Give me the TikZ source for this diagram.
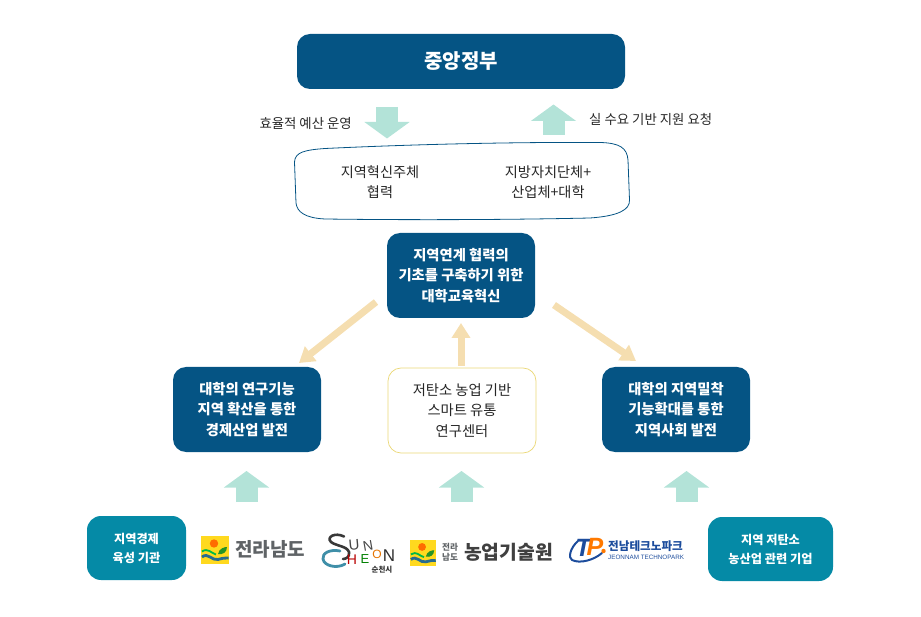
\documentclass[tikz,border=0pt]{standalone}
\usepackage{fontspec}
\setmainfont{Noto Sans CJK KR}
\newfontfamily\latinf{Liberation Sans}
\usetikzlibrary{arrows.meta}
\definecolor{navy}{HTML}{055484}
\definecolor{teal1}{HTML}{058AA6}
\definecolor{mint}{HTML}{B3E3D8}
\definecolor{tan1}{HTML}{F5DEB0}
\definecolor{gold}{HTML}{EBD877}
\definecolor{ytile}{HTML}{FFD91F}
\definecolor{logogray}{HTML}{5F6366}
\definecolor{wblue}{HTML}{2F7FA8}
\definecolor{tpblue}{HTML}{1C4C9C}
\definecolor{swteal}{HTML}{3F8FA8}
\tikzset{
  navybox/.style={draw=none,fill=navy,rounded corners=13pt,text=white,align=center,font=\fontsize{14.3}{20.5}\selectfont\bfseries,inner sep=0pt},
  goldbox/.style={draw=gold,line width=0.7pt,fill=white,rounded corners=13pt,text=black!85,align=center,font=\fontsize{14.3}{20.5}\selectfont,inner sep=0pt},
  tealbox/.style={draw=none,fill=teal1,rounded corners=14pt,text=white,align=center,font=\fontsize{12.2}{19}\selectfont\bfseries,inner sep=0pt},
  plain/.style={text=black!85,align=center,font=\fontsize{14.2}{20}\selectfont,inner sep=0pt},
  side/.style={text=black!85,font=\fontsize{13.4}{15}\selectfont,inner sep=0pt},
  mintarrow/.style={draw=mint,line width=22pt,-{Triangle[width=44.5pt,length=16.5pt]}},
  tanarrow/.style={draw=tan1,line width=7pt,-{Triangle[width=18pt,length=15pt]}},
  logotext/.style={text=logogray,inner sep=0pt},
  lett/.style={inner sep=0pt,font=\latinf\fontsize{#1}{#1}\selectfont},
  tile/.pic={
    \fill[ytile] (-13.7,-13.7) rectangle (13.7,13.7);
    \fill[orange!85!red] (-1,-6.5) circle (4.2);
    \draw[green!45!teal,line width=1.8pt] (-13,1.5) .. controls (-7,-2.5) and (-4,3) .. (1,4.5);
    \draw[wblue!85!black,line width=2.8pt] (-13,7) .. controls (-7,2) and (-3,11) .. (3,9.5) .. controls (7,8.5) and (10,7.5) .. (13.7,8);
    \fill[green!50!black!85] (3,4) .. controls (4,-2) and (10,-3) .. (12,-3) .. controls (12,2) and (8,5) .. (3,4);
  }
}
\begin{document}
\begin{tikzpicture}[x=1pt,y=-1pt]
\useasboundingbox (0,0) rectangle (921,617);
% nodes
\node[navybox,minimum width=328pt,minimum height=55pt,font=\fontsize{20}{24}\selectfont\bfseries] (gov) at (461,61.5) {중앙정부};
\node[side,anchor=east] (left) at (352,123) {효율적 예산 운영};
\node[side,anchor=west] (right) at (589,119) {실 수요 기반 지원 요청};
\draw[navy,line width=0.8pt] (294.5,162) .. controls (295,152) and (305,150) .. (325,148.5) .. controls (420,144) and (520,142) .. (600,142.5) .. controls (620,143) and (627,148) .. (628,160) -- (629.5,200) .. controls (630,210) and (618,216) .. (590,218) .. controls (500,220) and (400,220) .. (325,219) .. controls (305,218) and (297,212) .. (296,203) -- cycle;
\node[plain] (t1) at (380,182) {지역혁신주체\\협력};
\node[plain] (t2) at (548,182) {지방자치단체+\\산업체+대학};
\node[navybox,minimum width=148pt,minimum height=85pt] (center) at (461,275.5) {지역연계 협력의\\기초를 구축하기 위한\\대학교육혁신};
\node[navybox,minimum width=148pt,minimum height=85pt] (lbox) at (247,409.5) {대학의 연구기능\\지역 확산을 통한\\경제산업 발전};
\node[goldbox,minimum width=148pt,minimum height=85pt] (mbox) at (462,410.5) {저탄소 농업 기반\\스마트 유통\\연구센터};
\node[navybox,minimum width=148pt,minimum height=85pt] (rbox) at (676,409.5) {대학의 지역밀착\\기능확대를 통한\\지역사회 발전};
\node[tealbox,minimum width=99pt,minimum height=64pt] (tl) at (136.5,548) {지역경제\\육성 기관};
\node[tealbox,minimum width=125pt,minimum height=64pt] (tr) at (770.5,549) {지역 저탄소\\농산업 관련 기업};
% arrow end points
\coordinate (a1s) at (387,107); \coordinate (a1e) at (387,138.5);
\coordinate (a2s) at (553.5,135); \coordinate (a2e) at (553.5,104.5);
\coordinate (a3s) at (246.5,502); \coordinate (a3e) at (246.5,471);
\coordinate (a4s) at (461.5,502); \coordinate (a4e) at (461.5,471);
\coordinate (a5s) at (686.5,502); \coordinate (a5e) at (686.5,471);
\coordinate (b1s) at (376,302); \coordinate (b1e) at (299,363);
\coordinate (b2s) at (554,305); \coordinate (b2e) at (636,361);
\coordinate (b3s) at (461,366); \coordinate (b3e) at (461,323);
\foreach \p/\q in {a1s/a1e,a2s/a2e,a3s/a3e,a4s/a4e,a5s/a5e} \draw[mintarrow] (\p) -- (\q);
\foreach \p/\q in {b1s/b1e,b2s/b2e,b3s/b3e} \draw[tanarrow] (\p) -- (\q);
% logos
\pic at (215,550) {tile};
\node[logotext,anchor=west,font=\fontsize{19}{20}\selectfont\bfseries] (jn) at (235,549) {전라남도};
\pic[scale=0.93] at (423,553) {tile};
\node[logotext,align=center,font=\fontsize{8.6}{9.5}\selectfont\bfseries] (jn2) at (450,552) {전라\\남도};
\node[text=black!75,anchor=west,inner sep=0pt,font=\fontsize{19.3}{20}\selectfont\bfseries] (agr) at (464,552) {농업기술원};
% suncheon
\draw[black!78,line width=2.6pt,line cap=round] (344,536.5) .. controls (335,532) and (326,537) .. (331,542) .. controls (336,546) and (347,546) .. (349,552) .. controls (350,557) and (346,559) .. (343,559);
\draw[swteal,line width=2.8pt,line cap=round] (340,551) .. controls (330,549) and (322,553) .. (323,559) .. controls (324,566) and (337,569) .. (345,564);
\node[lett=15,text=black!72,rotate=5] (s2) at (354,545) {U};
\node[lett=14,text=black!72,rotate=10] (s3) at (368,546) {N};
\node[lett=14,text=red!72!black] (s5) at (352,560) {H};
\node[lett=13,text=green!50!black] (s6) at (365,559) {E};
\node[lett=12,text=orange!90!black] (s7) at (377,554) {O};
\node[lett=17,text=black!82] (s8) at (389,556) {N};
\node[inner sep=0pt,text=black!80,font=\fontsize{7.5}{8}\selectfont\bfseries] (s9) at (382,569.5) {순천시};
% technopark
\draw[tpblue,line width=2pt,line cap=round] (578,541) .. controls (570,548) and (568,558) .. (572,560) .. controls (580,564) and (594,560) .. (602,553);
\node[lett=25,font=\latinf\fontsize{25}{25}\selectfont\bfseries\itshape,text=tpblue] (tp1) at (583,548) {T};
\node[lett=25,font=\latinf\fontsize{25}{25}\selectfont\bfseries\itshape,text=orange!95!red] (tp2) at (595,547) {P};
\fill[orange!95!red] (603.5,551) circle (2.2);
\node[inner sep=0pt,text=tpblue,anchor=west,font=\fontsize{11.6}{13}\selectfont\bfseries] (tp3) at (608,546) {전남테크노파크};
\node[inner sep=0pt,text=tpblue,anchor=west,font=\latinf\fontsize{6.3}{7}\selectfont] (tp4) at (608,557.5) {JEONNAM TECHNOPARK};
\end{tikzpicture}
\end{document}
